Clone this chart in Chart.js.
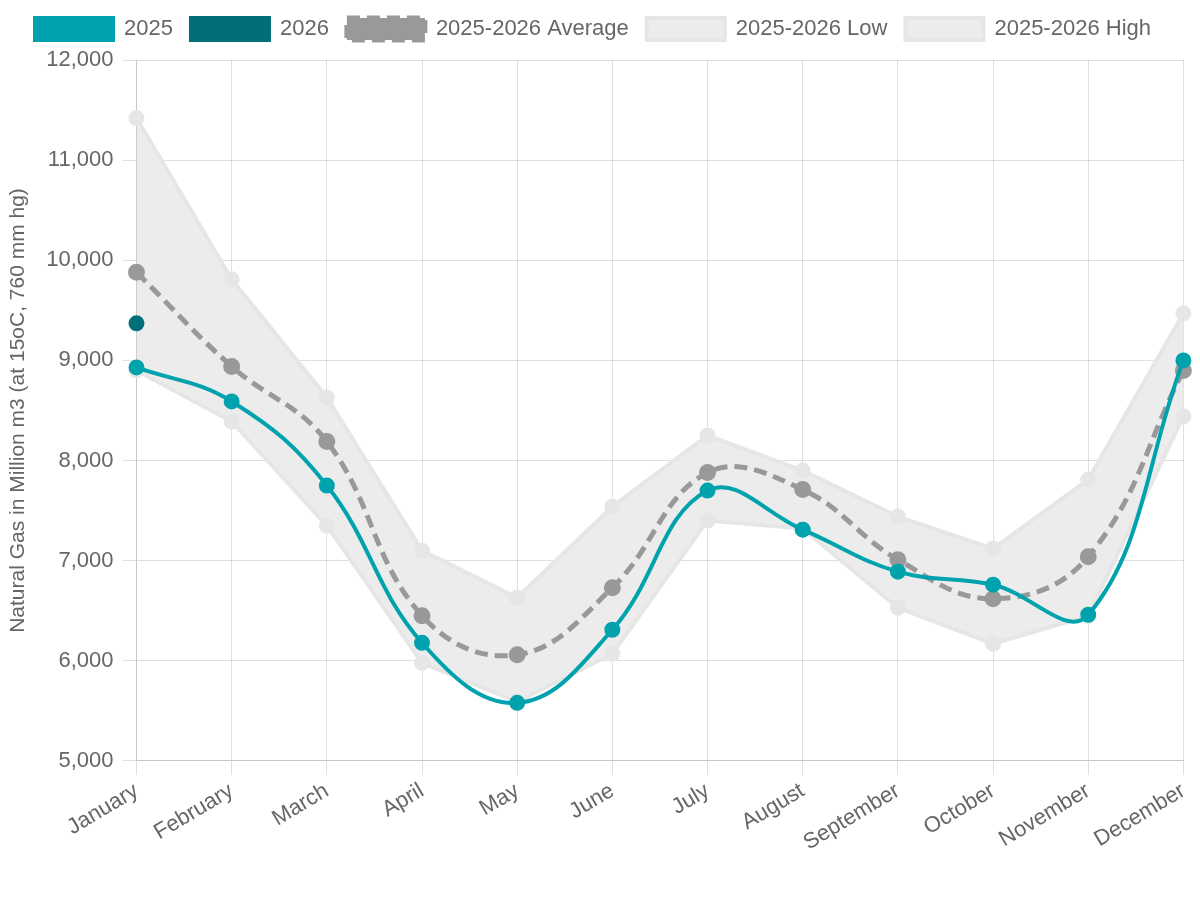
<!DOCTYPE html>
<html>
<head>
<meta charset="utf-8">
<script src="https://cdn.jsdelivr.net/npm/chart.js@4/dist/chart.umd.min.js"></script>
<style>
  body { margin: 0; background: #fff; }
  #wrap { width: 1200px; height: 897px; position: relative; }
</style>
</head>
<body>
<div id="wrap"><canvas id="gas-graph"></canvas></div>
<script>
const months = ['January', 'February', 'March', 'April', 'May', 'June', 'July', 'August', 'September', 'October', 'November', 'December'];
const values2025 = [8930, 8590, 7750, 6180, 5580, 6310, 7700, 7310, 6890, 6760, 6460, 9000];
const values2026 = [9370, null, null, null, null, null, null, null, null, null, null, null];
const avgValues = [9880, 8940, 8190, 6450, 6060, 6730, 7880, 7710, 7010, 6620, 7040, 8900];
const lowValues = [8900, 8390, 7350, 5980, 5590, 6070, 7400, 7320, 6530, 6170, 6450, 8440];
const highValues = [11420, 9810, 8630, 7100, 6630, 7540, 8250, 7900, 7440, 7120, 7810, 9470];

Chart.defaults.font.family = '"Liberation Sans", Arial, sans-serif';
Chart.defaults.color = '#666';

// a bit more room under the legend
const legendGap = {
  id: 'legendGap',
  beforeInit(chart) {
    const fit = chart.legend.fit;
    chart.legend.fit = function () {
      fit.bind(chart.legend)();
      this.height += 10;
    };
  }
};

const ctx = document.getElementById('gas-graph').getContext('2d');

const myChart = new Chart(ctx, {
  type: 'line',
  data: {
    labels: months,
    datasets: [{
        label: '2025',
        data: values2025,
        borderColor: '#00a3ad',
        backgroundColor: '#00a3ad',
        borderWidth: 4,
        pointRadius: 6,
        tension: 0.4,
        fill: false
    }, {
        label: '2026',
        data: values2026,
        borderColor: '#006f7a',
        backgroundColor: '#006f7a',
        borderWidth: 4,
        pointRadius: 6,
        tension: 0.4,
        fill: false
    }, {
        label: '2025-2026 Average',
        data: avgValues,
        borderColor: '#999',
        backgroundColor: '#999',
        borderWidth: 5,
        borderDash: [13, 7],
        pointRadius: 6,
        tension: 0.4,
        fill: false
    }, {
        label: '2025-2026 Low',
        data: lowValues,
        borderColor: '#e6e6e6',
        backgroundColor: '#ececec',
        borderWidth: 4,
        pointRadius: 6,
        pointBackgroundColor: '#e6e6e6',
        tension: 0,
        fill: false
    }, {
        label: '2025-2026 High',
        data: highValues,
        borderColor: '#e6e6e6',
        backgroundColor: '#ececec',
        borderWidth: 4,
        pointRadius: 6,
        pointBackgroundColor: '#e6e6e6',
        tension: 0,
        fill: '-1'
    }]
  },
  options: {
    responsive: true,
    maintainAspectRatio: false,
    animation: false,
    layout: {
      padding: { left: 0, right: 14, bottom: 38 }
    },
    plugins: {
      legend: {
        labels: {
          font: { size: 22 },
          boxWidth: 78,
          boxHeight: 22,
          padding: 18
        }
      },
      tooltip: { enabled: false }
    },
    scales: {
      x: {
        grid: { color: 'rgba(0,0,0,0.12)', tickLength: 14 },
        border: { color: '#c8c8c8' },
        ticks: {
          font: { size: 22 },
          minRotation: 31,
          maxRotation: 31
        }
      },
      y: {
        min: 5000,
        max: 12000,
        grid: { color: 'rgba(0,0,0,0.12)', tickLength: 14 },
        border: { color: '#c8c8c8' },
        ticks: {
          stepSize: 1000,
          padding: 9,
          font: { size: 22 }
        },
        title: {
          display: true,
          text: 'Natural Gas in Million m3 (at 15oC, 760 mm hg)',
          font: { size: 21 },
          padding: { top: 6, bottom: 6 }
        }
      }
    }
  },
  plugins: [legendGap]
});
</script>
</body>
</html>
